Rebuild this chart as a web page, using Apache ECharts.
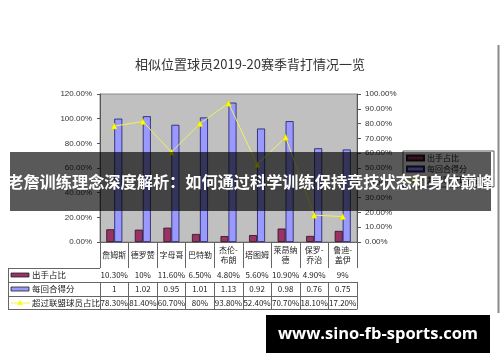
<!DOCTYPE html>
<html>
<head>
<meta charset="utf-8">
<script src="https://cdn.jsdelivr.net/npm/echarts@6/dist/echarts.min.js"></script>
<style>
  html, body { margin: 0; padding: 0; background: #fff; }
  #chart { width: 500px; height: 362px; }
</style>
</head>
<body>
<div id="chart"></div>
<script>
// Players and their 2019-20 post-up numbers
const categories = ['詹姆斯', '德罗赞', '字母哥', '巴特勒', '杰伦-\n布朗', '塔图姆', '莱昂纳\n德', '保罗-\n乔治', '鲁迪-\n盖伊'];
const shotShare = [10.3, 10, 11.6, 6.5, 4.8, 5.6, 10.9, 4.9, 9];          // 出手占比 (%)
const pointsPerPoss = [1, 1.02, 0.95, 1.01, 1.13, 0.92, 0.98, 0.76, 0.75]; // 每回合得分
const beatLeague = [78.3, 81.4, 60.7, 80, 93.8, 52.4, 70.7, 18.1, 17.2];  // 超过联盟球员占比 (%)
const seriesNames = ['出手占比', '每回合得分', '超过联盟球员占比'];
const titleText = '相似位置球员2019-20赛季背打情况一览';
const bannerText = '老詹训练理念深度解析：如何通过科学训练保持竞技状态和身体巅峰';
const siteText = 'www.sino-fb-sports.com';

const pct = v => (Number.isInteger(v) ? v : v.toFixed(2)) + '%';
const latin = 'Liberation Sans, Arial, sans-serif';
const cjk = '"Noto Sans CJK SC", "Liberation Sans", sans-serif';

const colors = { shot: '#993366', ppp: '#9999ff', line: '#f2f25a' };

// One bottom category axis per table row; the ticks draw the column rules
function tableAxis(offset, tickLen, labels, show) {
  return {
    type: 'category', gridIndex: 0, position: 'bottom', offset: offset,
    data: categories,
    axisLine: { show: true, lineStyle: { color: '#666', width: 1 } },
    axisTick: { show: tickLen > 0, length: tickLen, interval: 0, lineStyle: { color: '#666' } },
    axisLabel: {
      show: show, interval: 0, margin: tickLen / 2, verticalAlign: 'middle',
      formatter: (v, i) => labels[i],
      fontSize: 8, lineHeight: 10, color: '#222', fontFamily: cjk
    },
    splitLine: { show: false }
  };
}

const chart = echarts.init(document.getElementById('chart'), null, { renderer: 'canvas' });

const rowY = [268, 282, 296, 309];
const graphics = [];
// left column of the data table
rowY.forEach(y => graphics.push({ type: 'line', shape: { x1: 8, y1: y + 0.5, x2: 100, y2: y + 0.5 }, style: { stroke: '#666', lineWidth: 1 } }));
graphics.push({ type: 'line', shape: { x1: 8.5, y1: rowY[0], x2: 8.5, y2: rowY[3] + 1 }, style: { stroke: '#666', lineWidth: 1 } });
graphics.push({ type: 'rect', shape: { x: 11, y: 273, width: 18, height: 4 }, style: { fill: colors.shot, stroke: '#222', lineWidth: 0.8 } });
graphics.push({ type: 'rect', shape: { x: 11, y: 287, width: 18, height: 4 }, style: { fill: colors.ppp, stroke: '#222', lineWidth: 0.8 } });
graphics.push({ type: 'line', shape: { x1: 11, y1: 303, x2: 30, y2: 303 }, style: { stroke: colors.line, lineWidth: 1 } });
graphics.push({ type: 'polygon', shape: { points: [[20, 300], [23, 305], [17, 305]] }, style: { fill: '#ffff00' } });
[275, 289, 303].forEach((y, i) => graphics.push({
  type: 'text', x: 32, y: y,
  style: { text: seriesNames[i], fontSize: 8.5, fontFamily: cjk, fill: '#222', verticalAlign: 'middle' }
}));
// outer frame edge
graphics.push({ type: 'line', shape: { x1: 498.5, y1: 45, x2: 498.5, y2: 313 }, style: { stroke: '#8a8a8a', lineWidth: 2 } });
// headline banner
graphics.push({ type: 'rect', z: 100, shape: { x: 10, y: 152, width: 481, height: 59 }, style: { fill: 'rgba(0,0,0,0.65)' } });
graphics.push({
  type: 'text', z: 101, x: 250, y: 182,
  style: { text: bannerText, fontSize: 16.2, fontWeight: 'bold', fontFamily: cjk, fill: '#fff', align: 'center', verticalAlign: 'middle' }
});
// site badge
graphics.push({ type: 'rect', z: 100, shape: { x: 266, y: 315, width: 224, height: 38 }, style: { fill: '#000' } });
graphics.push({
  type: 'text', z: 101, x: 378, y: 334.5,
  style: { text: siteText, fontSize: 16.5, fontWeight: 'bold', fontFamily: '"Open Sans", sans-serif', fill: '#fff', align: 'center', verticalAlign: 'middle' }
});

chart.setOption({
  animation: false,
  backgroundColor: '#fff',
  title: {
    text: titleText, left: 'center', top: 53,
    textStyle: { fontSize: 13, fontWeight: 'normal', color: '#333', fontFamily: cjk }
  },
  legend: {
    orient: 'vertical', left: 403, top: 151,
    backgroundColor: '#fff', borderColor: '#555', borderWidth: 1,
    padding: [3, 3, 3, 3], itemWidth: 17, itemHeight: 5, itemGap: 3,
    textStyle: { fontSize: 8, color: '#222', fontFamily: cjk, padding: [0, 0, 0, -2] },
    data: [
      { name: seriesNames[0], icon: 'rect' },
      { name: seriesNames[1], icon: 'rect' },
      { name: seriesNames[2] }
    ]
  },
  grid: {
    left: 100, right: 143, top: 94, bottom: 120,
    show: true, backgroundColor: '#c0c0c0', borderColor: '#8a8a8a', borderWidth: 1
  },
  xAxis: [
    tableAxis(0, 26, categories, true),
    tableAxis(26, 14, shotShare.map(pct), true),
    tableAxis(40, 14, pointsPerPoss.map(String), true),
    tableAxis(54, 13, beatLeague.map(pct), true),
    tableAxis(67, 0, categories, false)
  ],
  yAxis: [
    {
      type: 'value', min: 0, max: 120, interval: 20, position: 'left',
      axisLine: { show: true, lineStyle: { color: '#555' } },
      axisTick: { show: true, length: 3, lineStyle: { color: '#555' } },
      axisLabel: { margin: 8, fontSize: 8, color: '#333', fontFamily: latin, formatter: v => v.toFixed(2) + '%' },
      splitLine: { show: false }
    },
    {
      type: 'value', min: 0, max: 100, interval: 10, position: 'right',
      axisLine: { show: true, lineStyle: { color: '#555' } },
      axisTick: { show: true, length: 4, lineStyle: { color: '#555' } },
      axisLabel: { margin: 8, fontSize: 8, color: '#333', fontFamily: latin, formatter: v => v.toFixed(2) + '%' },
      splitLine: { show: false }
    }
  ],
  series: [
    {
      name: seriesNames[0], type: 'bar', xAxisIndex: 0, yAxisIndex: 0,
      data: shotShare, barWidth: 8, barGap: '0%',
      itemStyle: { color: colors.shot, borderColor: '#2a1020', borderWidth: 0.8 }
    },
    {
      name: seriesNames[1], type: 'bar', xAxisIndex: 0, yAxisIndex: 0,
      data: pointsPerPoss.map(v => v * 100), barWidth: 8, barGap: '0%',
      itemStyle: { color: colors.ppp, borderColor: '#1a1a60', borderWidth: 0.8 }
    },
    {
      name: seriesNames[2], type: 'line', xAxisIndex: 0, yAxisIndex: 1,
      data: beatLeague, symbol: 'triangle', symbolSize: 6,
      lineStyle: { color: colors.line, width: 1 },
      itemStyle: { color: '#ffff00', borderColor: '#d0d000', borderWidth: 0.5 },
      z: 5
    }
  ],
  graphic: graphics
});
</script>
</body>
</html>
